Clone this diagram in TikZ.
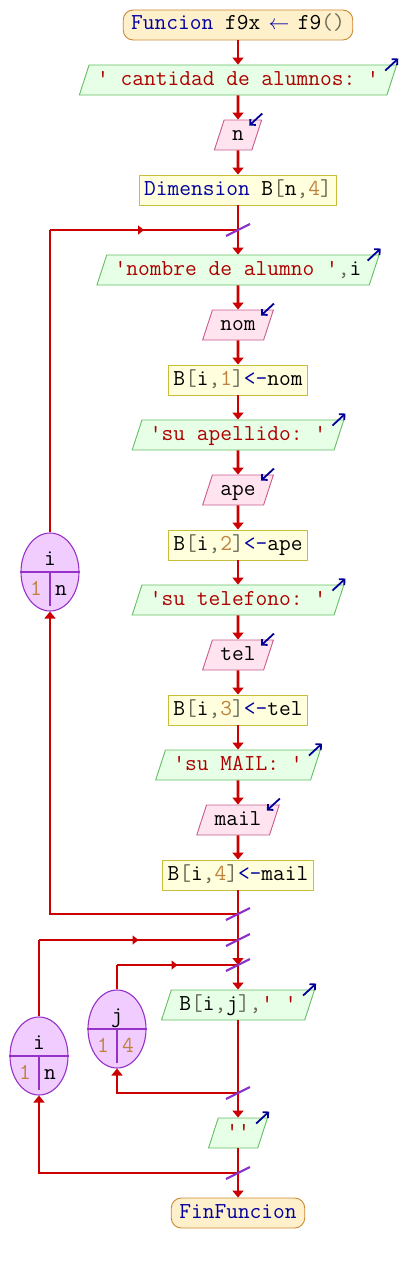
\documentclass[tikz,border=0pt]{standalone}
\usepackage{fontspec}
\setmonofont{Latin Modern Mono}
\usepackage{xcolor}
\usetikzlibrary{
    arrows.meta,
    shapes.geometric,
    decorations.markings,
    calc
}
\definecolor{flowred}{RGB}{204,0,0}
\definecolor{cutpurple}{RGB}{140,50,200}
\definecolor{iconblue}{RGB}{0,0,150}
\definecolor{kwblue}{RGB}{0,0,160}
\definecolor{strred}{RGB}{175,0,0}
\definecolor{numbrown}{RGB}{190,130,60}
\definecolor{pungray}{RGB}{105,105,85}
\definecolor{termfill}{RGB}{255,240,204}
\definecolor{termdraw}{RGB}{204,136,51}
\definecolor{procfill}{RGB}{255,255,221}
\definecolor{procdraw}{RGB}{200,190,60}
\definecolor{outfill}{RGB}{230,255,230}
\definecolor{outdraw}{RGB}{100,190,100}
\definecolor{infill}{RGB}{255,228,240}
\definecolor{indraw}{RGB}{200,90,140}
\definecolor{loopfill}{RGB}{240,204,255}
\definecolor{loopdraw}{RGB}{150,50,200}
\newcommand{\kw}[1]{\textcolor{kwblue}{#1}}
\newcommand{\lit}[1]{\textcolor{strred}{#1}}
\newcommand{\nm}[1]{\textcolor{numbrown}{#1}}
\newcommand{\pu}[1]{\textcolor{pungray}{#1}}
\tikzset{%
    >={Triangle[width=11pt,length=7pt]},
    % Specifications for style of nodes:
    base/.style = {
        draw, line width=0.9pt,
        text height=15pt, text depth=5pt, inner ysep=5pt, inner xsep=5pt,
        font=\ttfamily\fontsize{22.8pt}{26pt}\selectfont,
        text centered
    },
    term/.style = {base, rectangle, rounded corners=10pt, inner xsep=8pt, fill=termfill, draw=termdraw},
    proc/.style = {base, rectangle, fill=procfill, draw=procdraw},
    io/.style = {base, trapezium, trapezium left angle=72, trapezium right angle=108, inner xsep=8pt},
    write-node/.style = {io, fill=outfill, draw=outdraw},
    read-node/.style = {io, fill=infill, draw=indraw},
    loop-node/.style = {
        ellipse, draw=loopdraw, fill=loopfill, line width=1.1pt,
        minimum width=58pt, minimum height=78pt, inner sep=0pt
    },
    loop-text/.style = {inner sep=0pt, text height=1.5ex, text depth=0pt, font=\ttfamily\fontsize{22.8pt}{26pt}\selectfont},
    loop-line/.style = {draw=loopdraw, line width=1.1pt},
    flow/.style = {draw=flowred, line width=2.6pt},
    flowmid/.style = {flow, postaction={decorate}, decoration={markings,
        mark=at position 0.5 with {\arrow{Triangle[width=9pt,length=6pt,color=flowred]}}}},
    cut/.style = {draw=cutpurple, line width=2.2pt},
    io-mark/.style = {draw=iconblue, line width=1.8pt, -{Straight Barb[length=4pt,width=8pt]}}
}
\begin{document}
\begin{tikzpicture}[x=1pt, y=-1pt]
\useasboundingbox (0,0) rectangle (404,1263);
% main column
\node[term] (start) at (238,25) {\kw{Funcion} f9x~\makebox[14pt]{\kw{$\leftarrow$}}~f9\pu{()}};
\node[write-node] (askn) at (238,80) {\lit{' cantidad de alumnos: '}};
\node[read-node] (readn) at (238,135) {n};
\node[proc] (dimB) at (238,190) {\kw{Dimension} B\pu{[}n\pu{,}\nm{4}\pu{]}};
\node[write-node] (asknom) at (238,270) {\lit{'nombre de alumno '}\pu{,}i};
\node[read-node] (readnom) at (238,325) {nom};
\node[proc] (setnom) at (238,380) {B\pu{[}i\pu{,}\nm{1}\pu{]}\kw{<-}nom};
\node[write-node] (askape) at (238,435) {\lit{'su apellido: '}};
\node[read-node] (readape) at (238,490) {ape};
\node[proc] (setape) at (238,545) {B\pu{[}i\pu{,}\nm{2}\pu{]}\kw{<-}ape};
\node[write-node] (asktel) at (238,600) {\lit{'su telefono: '}};
\node[read-node] (readtel) at (238,655) {tel};
\node[proc] (settel) at (238,710) {B\pu{[}i\pu{,}\nm{3}\pu{]}\kw{<-}tel};
\node[write-node] (askmail) at (238,765) {\lit{'su MAIL: '}};
\node[read-node] (readmail) at (238,820) {mail};
\node[proc] (setmail) at (238,875) {B\pu{[}i\pu{,}\nm{4}\pu{]}\kw{<-}mail};
\node[write-node] (showB) at (238,1005) {B\pu{[}i\pu{,}j\pu{]}\pu{,}\lit{' '}};
\node[write-node] (newline) at (238,1133) {\lit{''}};
\node[term] (stop) at (238,1213) {\kw{FinFuncion}};
% junctions of the loops
\coordinate (cut1) at (238,230);
\coordinate (cut2) at (238,914);
\coordinate (cut3) at (238,940);
\coordinate (cut4) at (238,965);
\coordinate (cut5) at (238,1093);
\coordinate (cut6) at (238,1173);
% loop counters
\node[loop-node] (loopi) at (50,572) {};
\node[loop-text] (loopivar) at ([yshift=10pt]loopi.center) {i};
\node[loop-text] (loopifrom) at ([xshift=-14pt,yshift=-20pt]loopi.center) {\nm{1}};
\node[loop-text] (loopito) at ([xshift=11pt,yshift=-20pt]loopi.center) {n};
\node[loop-node] (loopr) at (39,1056) {};
\node[loop-text] (looprvar) at ([yshift=10pt]loopr.center) {i};
\node[loop-text] (looprfrom) at ([xshift=-14pt,yshift=-20pt]loopr.center) {\nm{1}};
\node[loop-text] (looprto) at ([xshift=11pt,yshift=-20pt]loopr.center) {n};
\node[loop-node] (loopc) at (117,1029) {};
\node[loop-text] (loopcvar) at ([yshift=10pt]loopc.center) {j};
\node[loop-text] (loopcfrom) at ([xshift=-14pt,yshift=-20pt]loopc.center) {\nm{1}};
\node[loop-text] (loopcto) at ([xshift=11pt,yshift=-20pt]loopc.center) {\nm{4}};
\foreach \l in {loopi,loopr,loopc} {
    \draw[loop-line] (\l.west) -- (\l.east);
    \draw[loop-line] (\l.center) -- ([yshift=6pt]\l.south);
}
% flow lines
\foreach \a/\b in {start/askn, askn/readn, readn/dimB, cut1/asknom, asknom/readnom,
    readnom/setnom, setnom/askape, askape/readape, readape/setape, setape/asktel,
    asktel/readtel, readtel/settel, settel/askmail, askmail/readmail, readmail/setmail,
    cut3/cut4, cut4/showB, cut5/newline, cut6/stop}
    \draw[flow,->] (\a) -- (\b);
\foreach \a/\b in {dimB/cut1, setmail/cut2, cut2/cut3, showB/cut5, newline/cut6}
    \draw[flow] (\a) -- (\b);
\coordinate (looptop) at (loopi.north |- cut1);
\draw[flow] (loopi.north) -- (looptop);
\draw[flowmid] (looptop) -- (cut1);
\draw[flow,->] (cut2) -| (loopi.south);
\coordinate (outertop) at (loopr.north |- cut3);
\draw[flow] (loopr.north) -- (outertop);
\draw[flowmid] (outertop) -- (cut3);
\draw[flow,->] (cut6) -| (loopr.south);
\coordinate (innertop) at (loopc.north |- cut4);
\draw[flow] (loopc.north) -- (innertop);
\draw[flowmid] (innertop) -- (cut4);
\draw[flow,->] (cut5) -| (loopc.south);
% cut marks
\foreach \c in {cut1,cut2,cut3,cut4,cut5,cut6}
    \draw[cut] ([xshift=-12pt,yshift=-6pt]\c) -- ([xshift=12pt,yshift=6pt]\c);
% input / output marks
\foreach \o in {askn,asknom,askape,asktel,askmail,showB,newline}
    \draw[io-mark] ([xshift=-12pt,yshift=-6pt]\o.top right corner) -- ([xshift=1pt,yshift=6pt]\o.top right corner);
\foreach \r in {readn,readnom,readape,readtel,readmail}
    \draw[io-mark] ([yshift=6pt]\r.top right corner) -- ([xshift=-13pt,yshift=-6pt]\r.top right corner);
\end{tikzpicture}
\end{document}
